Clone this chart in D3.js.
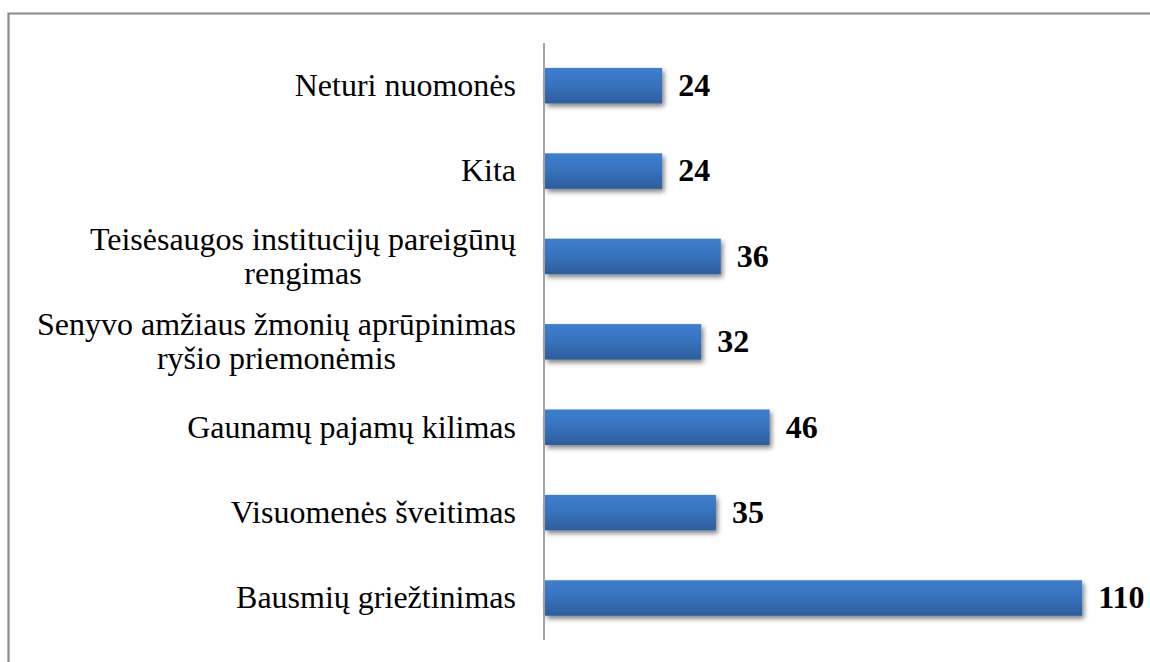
<!DOCTYPE html>
<html>
<head>
<meta charset="utf-8">
<script src="https://cdn.jsdelivr.net/npm/d3@7"></script>
<style>
html,body{margin:0;padding:0;background:#fff;}
svg{display:block;}
</style>
</head>
<body>
<svg id="chart" width="1150" height="662"></svg>
<script>
const categories = [
  ["Neturi nuomonės"],
  ["Kita"],
  ["Teisėsaugos institucijų pareigūnų", "rengimas"],
  ["Senyvo amžiaus žmonių aprūpinimas", "ryšio priemonėmis"],
  ["Gaunamų pajamų kilimas"],
  ["Visuomenės šveitimas"],
  ["Bausmių griežtinimas"]
];
const values = [24, 24, 36, 32, 46, 35, 110];

const svg = d3.select("#chart");
const W = 1150, H = 662;

// frame
svg.append("path")
  .attr("d", `M8.5,${H} L8.5,13.5 L${W},13.5`)
  .attr("fill", "none").attr("stroke", "#8a8a8a").attr("stroke-width", 2.2);

const defs = svg.append("defs");
const grad = defs.append("linearGradient").attr("id", "barGrad")
  .attr("x1", 0).attr("y1", 0).attr("x2", 0).attr("y2", 1);
grad.append("stop").attr("offset", "0%").attr("stop-color", "#3d7ecd");
grad.append("stop").attr("offset", "45%").attr("stop-color", "#3873bf");
grad.append("stop").attr("offset", "100%").attr("stop-color", "#2d5e9c");

const filt = defs.append("filter").attr("id", "shadow")
  .attr("x", "-5%").attr("y", "-30%").attr("width", "115%").attr("height", "180%");
filt.append("feGaussianBlur").attr("in", "SourceAlpha").attr("stdDeviation", 2.4).attr("result", "b");
filt.append("feOffset").attr("in", "b").attr("dx", 2).attr("dy", 3).attr("result", "o");
filt.append("feComponentTransfer").attr("in", "o").attr("result", "s")
  .append("feFuncA").attr("type", "linear").attr("slope", 0.5);
const m = filt.append("feMerge");
m.append("feMergeNode").attr("in", "s");
m.append("feMergeNode").attr("in", "SourceGraphic");

const x0 = 545;
const x = d3.scaleLinear().domain([0, 120]).range([x0, x0 + 586]);
const y = d3.scaleBand().domain(d3.range(categories.length))
  .range([43, 640.7]).paddingInner(0.584).paddingOuter(0.292);

const fs = 32;

// bars
svg.append("g").selectAll("rect").data(values).join("rect")
  .attr("x", x(0))
  .attr("y", (d, i) => y(i))
  .attr("width", d => x(d) - x(0))
  .attr("height", y.bandwidth())
  .attr("fill", "url(#barGrad)")
  .attr("filter", "url(#shadow)");

// axis line
svg.append("line")
  .attr("x1", 544).attr("x2", 544).attr("y1", 43).attr("y2", 640)
  .attr("stroke", "#8c8c8c").attr("stroke-width", 1.6);

// category labels
const lab = svg.append("g")
  .attr("font-family", "'Liberation Serif','Times New Roman',serif")
  .attr("font-size", fs).attr("fill", "#000").attr("text-anchor", "middle");
categories.forEach((lines, i) => {
  const cy = y(i) + y.bandwidth() / 2;
  const lh = 33.8;
  const n = lines.length;
  const t = lab.append("text");
  lines.forEach((ln, j) => {
    t.append("tspan")
      .attr("y", cy + 10.4 + (j - (n - 1) / 2) * lh)
      .text(ln);
  });
});
// block right-aligned at 516, lines centered within the block
lab.selectAll("text").each(function() {
  const spans = d3.select(this).selectAll("tspan").nodes();
  const mw = d3.max(spans.map(s => s.getComputedTextLength()));
  const cx = 516 - mw / 2;
  spans.forEach(s => d3.select(s).attr("x", cx));
});

// value labels
svg.append("g").selectAll("text").data(values).join("text")
  .attr("x", d => x(d) + 16)
  .attr("y", (d, i) => y(i) + y.bandwidth() / 2 + 10.4)
  .attr("font-family", "'Liberation Serif','Times New Roman',serif")
  .attr("font-size", fs).attr("font-weight", "bold").attr("fill", "#000")
  .text(d => d);
</script>
</body>
</html>
